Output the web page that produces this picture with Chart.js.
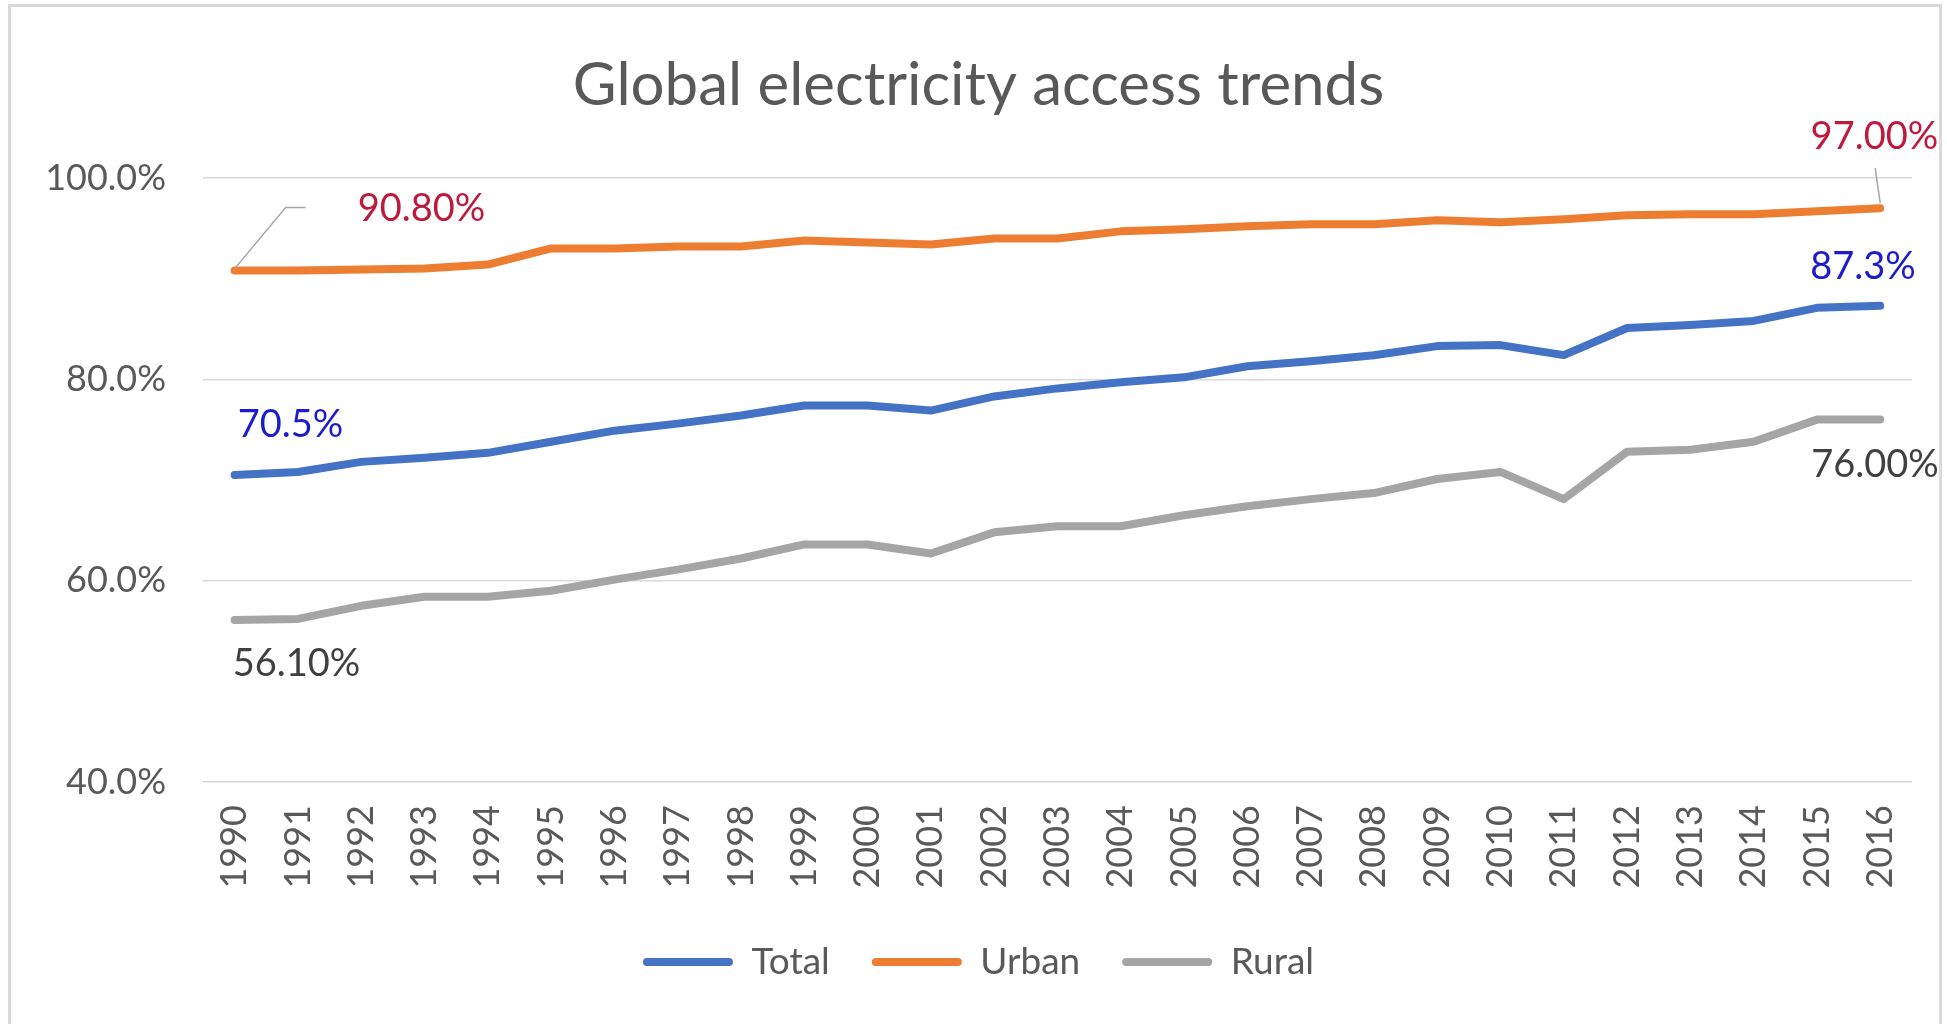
<!DOCTYPE html>
<html>
<head>
<meta charset="utf-8">
<title>Global electricity access trends</title>
<script src="https://cdn.jsdelivr.net/npm/chart.js@4.4.1/dist/chart.umd.min.js"></script>
<style>
    html, body { margin: 0; padding: 0; background: #fff; overflow: hidden; }
    #frame {
        position: absolute; left: 8px; top: 4px;
        width: 1934px; height: 1100px;
        border: 3px solid #d9d9d9; box-sizing: border-box;
    }
    #wrap { position: absolute; left: 0; top: 0; width: 1947px; height: 1024px; }
</style>
</head>
<body>
<div id="frame"></div>
<div id="wrap"><canvas id="accessChart" width="1947" height="1024"></canvas></div>
<script>
// Global electricity access trends
const years = ['1990', '1991', '1992', '1993', '1994', '1995', '1996', '1997', '1998', '1999',
               '2000', '2001', '2002', '2003', '2004', '2005', '2006', '2007', '2008', '2009',
               '2010', '2011', '2012', '2013', '2014', '2015', '2016'];

const totalAccess = [70.5, 70.8, 71.8, 72.2, 72.7, 73.8, 74.9, 75.6, 76.4, 77.4,
                     77.4, 76.9, 78.3, 79.1, 79.7, 80.2, 81.3, 81.8, 82.4, 83.3,
                     83.4, 82.4, 85.1, 85.4, 85.8, 87.1, 87.3];

const urbanAccess = [90.8, 90.8, 90.9, 91.0, 91.4, 93.0, 93.0, 93.2, 93.2, 93.8,
                     93.6, 93.4, 94.0, 94.0, 94.7, 94.9, 95.2, 95.4, 95.4, 95.8,
                     95.6, 95.9, 96.3, 96.4, 96.4, 96.7, 97.0];

const ruralAccess = [56.1, 56.2, 57.5, 58.4, 58.4, 59.0, 60.1, 61.1, 62.2, 63.6,
                     63.6, 62.7, 64.8, 65.4, 65.4, 66.5, 67.4, 68.1, 68.7, 70.1,
                     70.8, 68.1, 72.8, 73.0, 73.8, 76.0, 76.0];

const seriesNames = ['Total', 'Urban', 'Rural'];
const yMin = 40;
const yMax = 100;
const yStep = 20;

const FONT = 'Lato';
const GREY_TEXT = '#595959';

// Etiquetas de datos (offsets en px respecto al punto)
const callouts = [
    { dataset: 0, index: 0,  decimals: 1, color: '#1c1ccf', dx: 3,   dy: -50, align: 'left' },
    { dataset: 0, index: 26, decimals: 1, color: '#1c1ccf', dx: -70, dy: -39, align: 'left' },
    { dataset: 1, index: 0,  decimals: 2, color: '#be1a3c', dx: 123, dy: -62, align: 'left',
      leader: [[0, -2], [51, -63], [71, -63]] },
    { dataset: 1, index: 26, decimals: 2, color: '#be1a3c', dx: 58,  dy: -71, align: 'right',
      leader: [[-5, -40], [0, -5]] },
    { dataset: 2, index: 0,  decimals: 2, color: '#404040', dx: -2,  dy: 44,  align: 'left' },
    { dataset: 2, index: 26, decimals: 2, color: '#404040', dx: -69, dy: 45,  align: 'left' }
];

const calloutPlugin = {
    id: 'callouts',
    afterDatasetsDraw(chart) {
        const ctx = chart.ctx;
        ctx.save();
        callouts.forEach(function(c) {
            const pt = chart.getDatasetMeta(c.dataset).data[c.index];
            const value = chart.data.datasets[c.dataset].data[c.index];
            if (c.leader) {
                ctx.beginPath();
                ctx.strokeStyle = '#a6a6a6';
                ctx.lineWidth = 1.5;
                c.leader.forEach(function(p, i) {
                    if (i === 0) ctx.moveTo(pt.x + p[0], pt.y + p[1]);
                    else ctx.lineTo(pt.x + p[0], pt.y + p[1]);
                });
                ctx.stroke();
            }
            ctx.font = '38px ' + FONT;
            ctx.fillStyle = c.color;
            ctx.textAlign = c.align;
            ctx.textBaseline = 'middle';
            ctx.fillText(value.toFixed(c.decimals) + '%', pt.x + c.dx, pt.y + c.dy);
        });
        ctx.restore();
    }
};

function lineDataset(label, data, color) {
    return {
        label: label,
        data: data,
        borderColor: color,
        backgroundColor: color,
        borderWidth: 8,
        borderCapStyle: 'round',
        borderJoinStyle: 'round',
        pointRadius: 0,
        pointHoverRadius: 0,
        tension: 0,
        fill: false
    };
}

document.addEventListener('DOMContentLoaded', function() {
    const ctx = document.getElementById('accessChart');
    new Chart(ctx, {
        type: 'line',
        data: {
            labels: years,
            datasets: [
                lineDataset(seriesNames[0], totalAccess, '#4472c4'),
                lineDataset(seriesNames[1], urbanAccess, '#ed7d31'),
                lineDataset(seriesNames[2], ruralAccess, '#a5a5a5')
            ]
        },
        options: {
            responsive: false,
            devicePixelRatio: 1,
            animation: false,
            layout: { padding: { left: 42, right: 32, top: 0, bottom: 33.5 } },
            plugins: {
                title: {
                    display: true,
                    text: 'Global electricity access trends',
                    color: GREY_TEXT,
                    font: { family: FONT, size: 60, weight: 'normal' },
                    padding: { top: 50, bottom: 56 }
                },
                legend: {
                    position: 'bottom',
                    labels: {
                        color: GREY_TEXT,
                        font: { family: FONT, size: 37 },
                        boxWidth: 90,
                        boxHeight: 8,
                        padding: 42,
                        useBorderRadius: true,
                        borderRadius: 4,
                        generateLabels(chart) {
                            const items = Chart.defaults.plugins.legend.labels.generateLabels(chart);
                            items.forEach(function(it) { it.lineWidth = 0; });
                            return items;
                        }
                    }
                },
                tooltip: { enabled: false }
            },
            scales: {
                x: {
                    offset: true,
                    grid: { display: false, drawTicks: false },
                    border: { display: false },
                    ticks: {
                        color: GREY_TEXT,
                        font: { family: FONT, size: 36 },
                        maxRotation: 90,
                        minRotation: 90,
                        autoSkip: false,
                        padding: 23
                    },
                    afterFit(scale) { scale.height = 119.5; }
                },
                y: {
                    min: yMin,
                    max: yMax,
                    grid: { color: '#d9d9d9', lineWidth: 1.5, drawTicks: false },
                    border: { display: false },
                    ticks: {
                        stepSize: yStep,
                        color: GREY_TEXT,
                        font: { family: FONT, size: 36 },
                        padding: 37,
                        callback: function(v) { return v.toFixed(1) + '%'; }
                    },
                    afterFit(scale) { scale.width = 161; }
                }
            }
        },
        plugins: [calloutPlugin]
    });
});
</script>
</body>
</html>
